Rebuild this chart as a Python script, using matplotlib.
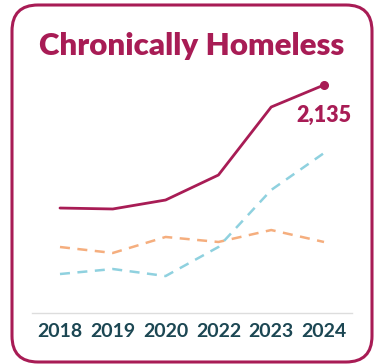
import matplotlib
matplotlib.use("Agg")
import matplotlib.pyplot as plt
from matplotlib.patches import FancyBboxPatch

years = ["2018", "2019", "2020", "2022", "2023", "2024"]
chronic = [983, 974, 1058, 1292, 1929, 2135]
series_orange = [618, 562, 712, 665, 777, 665]
series_blue = [365, 412, 346, 618, 1152, 1498]

MAGENTA = "#A81C55"
ORANGE = "#F5AE7E"
BLUE = "#8FD1DF"
TEAL = "#1C4753"

W, H = 381, 364
fig = plt.figure(figsize=(W / 100, H / 100), dpi=100)

# background / frame
bg = fig.add_axes([0, 0, 1, 1])
bg.set_xlim(0, W)
bg.set_ylim(0, H)
bg.axis("off")
box = FancyBboxPatch((12, 2), 360, 357, boxstyle="round,pad=0,rounding_size=26",
                     linewidth=2.2, edgecolor=MAGENTA, facecolor="white")
bg.add_patch(box)
bg.text(W / 2 + 1, H - 46, "Chronically Homeless", ha="center", va="center",
        fontsize=22.5, fontweight="heavy", color=MAGENTA, family="Lato")

# data axes
x0, x1 = 32, 352
ybot, ytop = 313, 70
ax = fig.add_axes([x0 / W, (H - ybot) / H, (x1 - x0) / W, (ybot - ytop) / H])
ax.patch.set_alpha(0)
x = list(range(len(years)))
ax.plot(x, series_orange, color=ORANGE, lw=1.8, dashes=(4, 3))
ax.plot(x, series_blue, color=BLUE, lw=1.8, dashes=(4, 3))
ax.plot(x, chronic, color=MAGENTA, lw=2.0, solid_capstyle="round")
ax.plot([x[-1]], [chronic[-1]], "o", color=MAGENTA, ms=5.5)
ax.annotate(f"{chronic[-1]:,}", (x[-1], chronic[-1]), xytext=(0, -22),
            textcoords="offset points", ha="center", va="center",
            fontsize=15.5, fontweight="heavy", color=MAGENTA, family="Lato")

ax.set_xlim(-0.53, 5.53)
ax.set_ylim(0, 2135 * 243 / 228)
ax.set_xticks(x)
ax.set_xticklabels(years, fontsize=14, fontweight="bold", color=TEAL, family="Lato")
ax.set_yticks([])
for s in ["top", "left", "right"]:
    ax.spines[s].set_visible(False)
ax.spines["bottom"].set_color("#DDDDDD")
ax.spines["bottom"].set_linewidth(1.0)
ax.tick_params(axis="x", length=0, pad=7.5)

fig.savefig("out.png", dpi=100)
